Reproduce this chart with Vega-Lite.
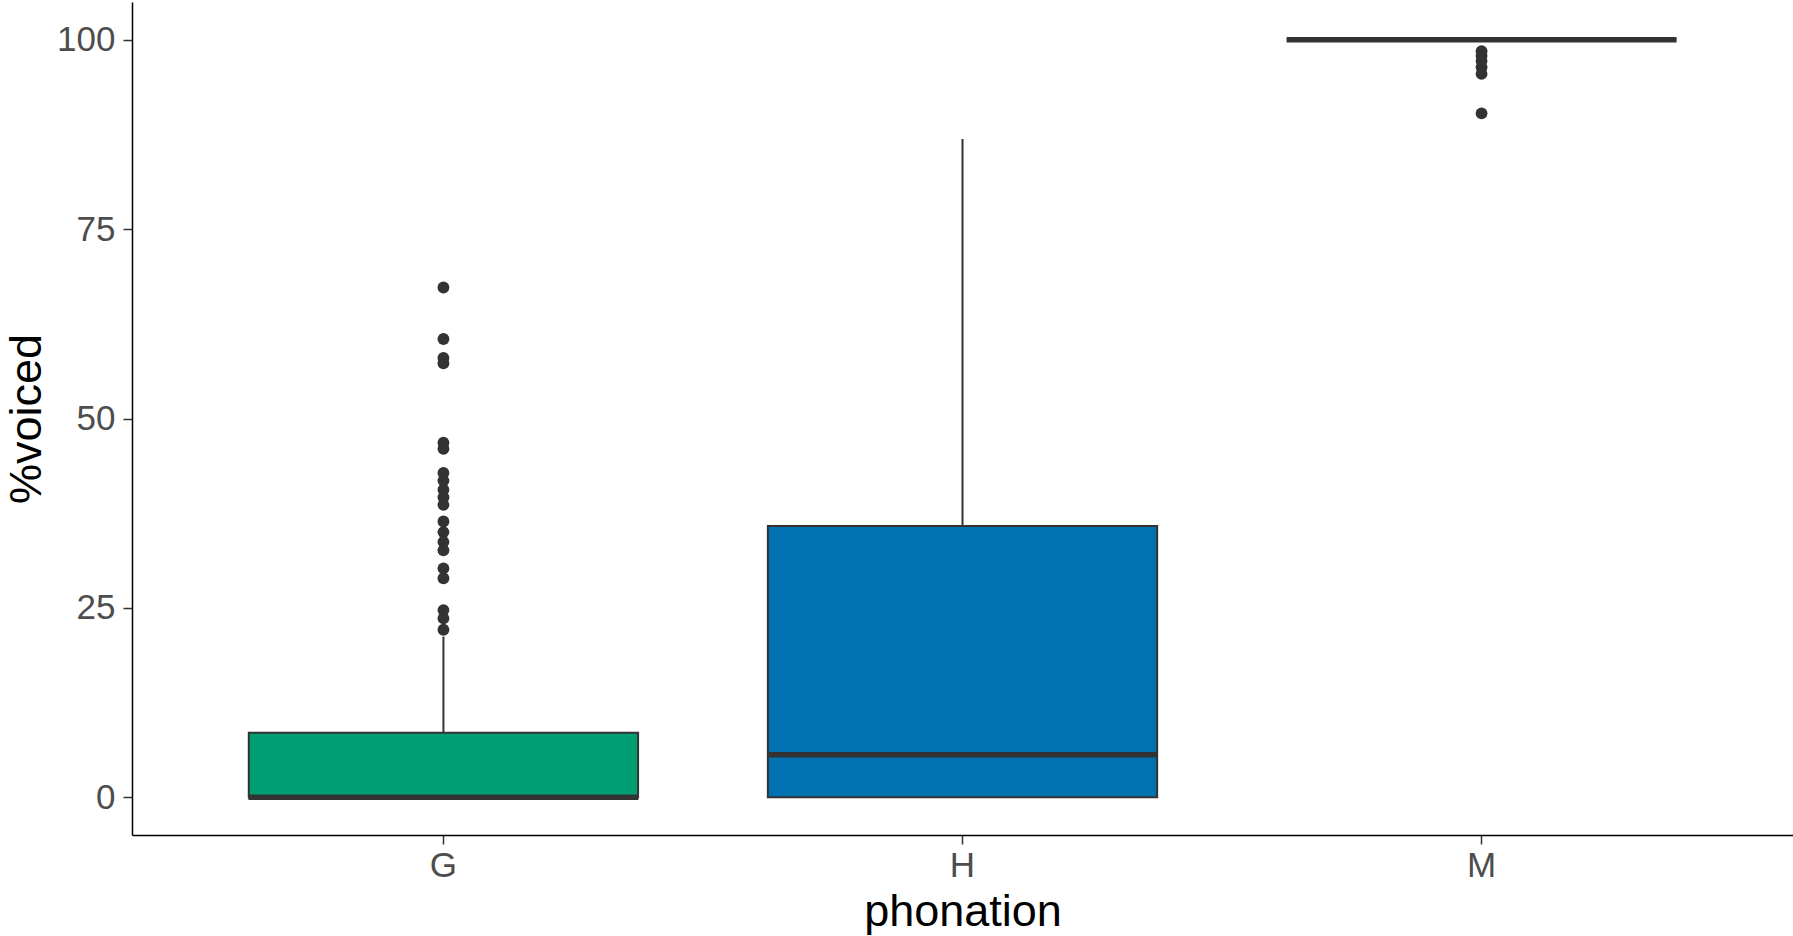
{
  "$schema": "https://vega.github.io/schema/vega-lite/v6.json",
  "autosize": "none",
  "padding": {"left": 132, "top": 2, "right": 0, "bottom": 101},
  "width": 1661,
  "height": 833,
  "background": "white",
  "config": {
    "view": {"stroke": null},
    "font": "Liberation Sans",
    "axis": {
      "grid": false,
      "domainColor": "black",
      "domainWidth": 1.5,
      "tickColor": "#333333",
      "tickWidth": 1.5,
      "tickSize": 9,
      "labelColor": "#4D4D4D",
      "labelFontSize": 35,
      "labelFont": "Liberation Sans",
      "titleFont": "Liberation Sans",
      "titleFontSize": 45,
      "titleFontWeight": "normal",
      "titleColor": "black"
    }
  },
  "datasets": {
    "summary": [
      {"phonation": "G", "lower": 0, "q1": 0, "median": 0, "q3": 8.5, "upper": 21.2},
      {"phonation": "H", "lower": 0, "q1": 0, "median": 5.6, "q3": 35.8, "upper": 86.9},
      {"phonation": "M", "lower": 100, "q1": 100, "median": 100, "q3": 100, "upper": 100}
    ],
    "outliers": [
      {"phonation": "G", "voiced": 67.3},
      {"phonation": "G", "voiced": 60.5},
      {"phonation": "G", "voiced": 58.0},
      {"phonation": "G", "voiced": 57.3},
      {"phonation": "G", "voiced": 46.8},
      {"phonation": "G", "voiced": 46.0},
      {"phonation": "G", "voiced": 42.8},
      {"phonation": "G", "voiced": 41.8},
      {"phonation": "G", "voiced": 40.6},
      {"phonation": "G", "voiced": 39.6},
      {"phonation": "G", "voiced": 38.6},
      {"phonation": "G", "voiced": 36.4},
      {"phonation": "G", "voiced": 35.0},
      {"phonation": "G", "voiced": 33.7},
      {"phonation": "G", "voiced": 32.6},
      {"phonation": "G", "voiced": 30.2},
      {"phonation": "G", "voiced": 28.9},
      {"phonation": "G", "voiced": 24.7},
      {"phonation": "G", "voiced": 23.6},
      {"phonation": "G", "voiced": 22.1},
      {"phonation": "M", "voiced": 98.5},
      {"phonation": "M", "voiced": 97.9},
      {"phonation": "M", "voiced": 97.2},
      {"phonation": "M", "voiced": 96.4},
      {"phonation": "M", "voiced": 95.5},
      {"phonation": "M", "voiced": 90.3}
    ]
  },
  "encoding": {
    "x": {
      "field": "phonation",
      "type": "nominal",
      "scale": {"domain": ["G", "H", "M"], "paddingInner": 0.25, "paddingOuter": 0.225},
      "axis": {"labelAngle": 0, "labelPadding": 4, "titlePadding": 6, "title": "phonation"}
    }
  },
  "layer": [
    {
      "data": {"name": "summary"},
      "mark": {"type": "rule", "color": "#333333", "strokeWidth": 2},
      "encoding": {
        "y": {"field": "lower", "type": "quantitative",
              "scale": {"domain": [-5, 105], "nice": false, "zero": false},
              "axis": {"values": [0, 25, 50, 75, 100], "title": "%voiced", "labelPadding": 8, "titlePadding": 7}},
        "y2": {"field": "upper"}
      }
    },
    {
      "data": {"name": "summary"},
      "mark": {"type": "bar", "stroke": "#333333", "strokeWidth": 2},
      "encoding": {
        "y": {"field": "q1", "type": "quantitative"},
        "y2": {"field": "q3"},
        "fill": {"field": "phonation", "type": "nominal",
                 "scale": {"domain": ["G", "H", "M"], "range": ["#009E73", "#0072B2", "#D55E00"]},
                 "legend": null}
      }
    },
    {
      "data": {"name": "summary"},
      "mark": {"type": "tick", "color": "#333333", "thickness": 5.5, "size": 390, "opacity": 1},
      "encoding": {
        "y": {"field": "median", "type": "quantitative"}
      }
    },
    {
      "data": {"name": "outliers"},
      "mark": {"type": "circle", "color": "#333333", "size": 140, "opacity": 1},
      "encoding": {
        "y": {"field": "voiced", "type": "quantitative"}
      }
    }
  ]
}
